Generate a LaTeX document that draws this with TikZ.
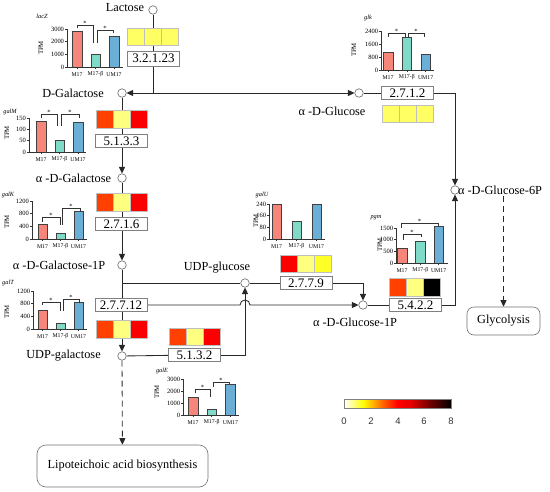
\documentclass[tikz,border=0pt]{standalone}
\usepackage{fontspec}
\setmainfont{Liberation Serif}
\newfontfamily\sansf{Liberation Sans}
\usetikzlibrary{arrows.meta,backgrounds}
\pgfdeclarelayer{bottom}
\pgfsetlayers{bottom,background,main}
\definecolor{barM}{RGB}{246,134,122}
\definecolor{barB}{RGB}{127,219,200}
\definecolor{barU}{RGB}{107,174,214}
\definecolor{hOr}{RGB}{255,64,0}
\definecolor{hPy}{RGB}{255,255,128}
\definecolor{hRd}{RGB}{250,0,0}
\definecolor{hLy}{RGB}{255,255,100}
\definecolor{hYe}{RGB}{255,255,40}
\definecolor{lnc}{RGB}{40,40,40}
\pgfdeclarehorizontalshading{heatbar}{100bp}{color(0bp)=(white); color(25bp)=(white); color(34bp)=(yellow); color(43bp)=(orange!80!red); color(50bp)=(red); color(56bp)=(red!90!black); color(65bp)=(red!45!black); color(75bp)=(black); color(100bp)=(black)}
\pgfkeys{/chart/.cd, x/.store in=\cX, y/.store in=\cY, h/.store in=\cH, tick/.store in=\cT,
  a/.store in=\cA, b/.store in=\cB, c/.store in=\cC, off/.store in=\cO, sp/.store in=\cS,
  len/.store in=\cL, tx/.store in=\cTX, ty/.store in=\cTY, gx/.store in=\cGX, gy/.store in=\cGY,
  gene/.store in=\cN}
\newcommand\chart[1]{%
  \pgfkeys{/chart/.cd, off=9, sp=18.5, len=56, #1}%
  \node[genelab] at (\cGX,\cGY) {\cN};
  \node[tpmlab] at (\cTX,\cTY) {TPM};
  \begin{scope}[shift={(\cX,\cY)}]
    \foreach \v/\col/\k/\lab in {\cA/barM/0/M17, \cB/barB/1/M17-β, \cC/barU/2/UM17} {
      \pgfmathsetmacro\bc{\cO+\k*\cS}
      \pgfmathsetmacro\bt{-\v/(3*\cT)*\cH}
      \draw[barline, fill=\col] (\bc-4.75,0) rectangle (\bc+4.75,\bt);
      \draw[axisline] (\bc,0) -- (\bc,2);
      \node[xlab] at (\bc,7.5) {\lab};
    }
    \draw[axisline] (0,-\cH) -- (0,0) -- (\cL,0);
    \foreach \i in {0,1,2,3} {
      \pgfmathsetmacro\tyy{-\i*\cH/3}
      \pgfmathtruncatemacro\tl{\i*\cT}
      \draw[axisline] (-2,\tyy) -- (0,\tyy);
      \node[ylab] at (-2.8,\tyy) {\tl};
    }
  \end{scope}
}
\newcommand\brk[5]{%
  \draw[axisline] (#1,#2) -- (#1,#5) -- (#3,#5) -- (#3,#4);
  \node[starlab] at ({(#1+#3)/2},#5-1.8) {*};
}
\newcommand\heat[6]{%
  \node[cell, fill=#4] (#1-1) at (#2-17,#3) {};
  \node[cell, fill=#5] (#1-2) at (#2,#3) {};
  \node[cell, fill=#6] (#1-3) at (#2+17,#3) {};
}
\tikzset{
  met/.style={circle, draw=black!60, fill=white, minimum size=8.5pt, inner sep=0pt, line width=0.6pt},
  ec/.style={draw=black!50, fill=white, minimum width=52pt, minimum height=13.5pt, inner sep=0pt, line width=0.6pt, font=\fontsize{13}{13}\selectfont},
  cell/.style={draw=black!25, minimum width=17pt, minimum height=17.5pt, inner sep=0pt, line width=0.4pt},
  lbl/.style={font=\fontsize{12.3}{12.3}\selectfont, inner sep=1pt},
  endbox/.style={draw=black!55, rounded corners=7pt, line width=0.6pt, font=\fontsize{12.3}{12.3}\selectfont, inner sep=0pt},
  conn/.style={draw=lnc, line width=0.85pt},
  arr/.style={conn, -{Triangle[length=6.5pt,width=6pt]}},
  darr/.style={arr, dash pattern=on 6pt off 4pt},
  barline/.style={draw=black!75, line width=0.4pt},
  axisline/.style={draw=black!80, line width=0.45pt},
  xlab/.style={font=\fontsize{5.8}{5.8}\selectfont, inner sep=0pt},
  ylab/.style={font=\fontsize{6.5}{6.5}\selectfont, inner sep=0pt, anchor=east},
  tpmlab/.style={font=\fontsize{6.8}{6.8}\selectfont, inner sep=0pt, rotate=90},
  genelab/.style={font=\fontsize{6.3}{6.3}\selectfont\itshape, inner sep=0pt},
  starlab/.style={font=\fontsize{6.5}{6.5}\selectfont, inner sep=0pt},
  cbnum/.style={font=\sansf\fontsize{9.5}{9.5}\selectfont, text=black!80, inner sep=0pt}
}
\begin{document}
\begin{tikzpicture}[x=1pt,y=-1pt]
\useasboundingbox (0,0) rectangle (550,491);
\begin{pgfonlayer}{bottom}
  \fill[white] (0,0) rectangle (550,491);
\end{pgfonlayer}

% metabolites (circles)
\node[met] (lac) at (153,10) {};
\node[met] (dgal) at (122,93) {};
\node[met] (agal) at (122,178) {};
\node[met] (agal1p) at (122,265) {};
\node[met] (udpgal) at (122,356) {};
\node[met] (udpglc) at (245,283) {};
\node[met] (aglc) at (359,93) {};
\node[met] (aglc1p) at (363,305) {};
\node[met] (aglc6p) at (455,190) {};
\coordinate (jn) at (153,93);
\coordinate (jn2) at (122,283);

% metabolite labels
\node[lbl] (tlac) at (125,8) {Lactose};
\node[lbl] (tdgal) at (73,93) {D-Galactose};
\node[lbl] (tagal) at (73.5,178) {α -D-Galactose};
\node[lbl] (tagal1p) at (59,265) {α -D-Galactose-1P};
\node[lbl] (tudpgal) at (63.5,356) {UDP-galactose};
\node[lbl] (tudpglc) at (217,268) {UDP-glucose};
\node[lbl] (taglc) at (332,111) {α -D-Glucose};
\node[lbl] (taglc1p) at (355,322) {α -D-Glucose-1P};
\node[lbl] (taglc6p) at (500,190) {α -D-Glucose-6P};

% end boxes
\node[endbox, minimum width=73pt, minimum height=28pt] (glyco) at (503.5,321) {Glycolysis};
\node[endbox, minimum width=171pt, minimum height=42pt, rounded corners=9pt] (lta) at (122.5,466) {Lipoteichoic acid biosynthesis};

% enzyme boxes
\node[ec, minimum height=15pt] (e32123) at (153.5,58.5) {3.2.1.23};
\node[ec] (e2712) at (407.5,93) {2.7.1.2};
\node[ec] (e5133) at (121.5,141) {5.1.3.3};
\node[ec] (e2716) at (121.5,224) {2.7.1.6};
\node[ec] (e27712) at (121,305) {2.7.7.12};
\node[ec] (e5132) at (194.5,355) {5.1.3.2};
\node[ec] (e2779) at (306,283) {2.7.7.9};
\node[ec] (e5422) at (415.5,305) {5.4.2.2};

% heat maps
\heat{h1}{153}{36.5}{hLy}{hLy}{hLy}
\heat{h2}{407.5}{113.5}{hLy}{hLy}{hLy}
\heat{h3}{121.5}{119}{hOr}{hPy}{hRd}
\heat{h4}{121.5}{202}{hOr}{hPy}{hRd}
\heat{h5}{121.5}{329}{hOr}{hPy}{hRd}
\heat{h6}{195}{336.5}{hOr}{hPy}{hRd}
\heat{h7}{305.5}{263.5}{hRd}{hPy}{hYe}
\heat{h8}{415}{287}{hOr}{hPy}{black}

% connectors
\begin{pgfonlayer}{background}
  \draw[conn] (lac) -- (jn);
  \draw[arr] (jn) -- (dgal);
  \draw[arr] (jn) -- (aglc);
  \draw[conn] (aglc) -- (e2712);
  \draw[arr] (e2712.east) -| (aglc6p);
  \draw[arr] (dgal) -- (agal);
  \draw[arr] (agal) -- (agal1p);
  \draw[arr] (agal1p) -- (udpgal);
  \draw[conn] (jn2) -- (udpglc);
  \draw[arr] (e27712.east) -- (240,305) arc[start angle=180, end angle=360, radius=5] -- (aglc1p);
  \draw[conn] (udpgal) -- (e5132);
  \draw[arr] (e5132.east) -| (udpglc);
  \draw[conn] (udpglc) -- (e2779);
  \draw[arr] (e2779.east) -| (aglc1p);
  \draw[conn] (aglc1p) -- (e5422);
  \draw[arr] (e5422.east) -| (aglc6p);
  \draw[darr] (glyco.north |- taglc6p.south) -- (glyco.north);
  \draw[darr] (udpgal) -- (lta);
\end{pgfonlayer}

% bar charts
\chart{x=67, y=67, h=38, tick=1000, a=2800, b=1050, c=2450, off=10, sp=18.5, len=56, tx=41, ty=48, gx=42, gy=16, gene=lacZ}
\brk{77}{28}{93}{43}{25}
\brk{97}{43}{113}{33}{30}

\chart{x=381, y=70, h=39, tick=800, a=1108, b=2030, c=985, off=7, sp=18.8, len=53, tx=354, ty=50, gx=368, gy=18, gene=glk}
\brk{388}{37}{405}{37}{33}
\brk{408}{37}{424}{37}{33}

\chart{x=29, y=152, h=34, tick=50, a=137, b=53, c=132, off=12, sp=18.5, len=57, tx=7, ty=133, gx=10, gy=112, gene=galM}
\brk{41}{118}{57}{126}{114}
\brk{61}{126}{79}{118}{114}

\chart{x=32, y=239, h=38, tick=400, a=474, b=190, c=884, off=10.5, sp=18, len=55, tx=7, ty=222, gx=8, gy=195, gene=galK}
\brk{42}{222}{60}{225}{217}
\brk{62}{225}{80}{211}{208}

\chart{x=33, y=329, h=38, tick=400, a=600, b=190, c=850, off=9.5, sp=18, len=54, tx=7, ty=312, gx=8, gy=283, gene=galT}
\brk{42}{305}{60}{311}{302}
\brk{63}{311}{79}{303}{299}

\chart{x=269, y=239, h=35, tick=80, a=238, b=123, c=240, off=7.5, sp=20, len=56, tx=256, ty=221, gx=262, gy=195, gene=galU}

\chart{x=396, y=263, h=35, tick=500, a=643, b=943, c=1586, off=6, sp=18.3, len=52, tx=380, ty=245, gx=376, gy=218, gene=pgm}
\brk{403}{240}{421}{237}{234}
\brk{401}{228}{438}{226}{223}

\chart{x=183, y=415, h=36, tick=1000, a=1500, b=500, c=2580, off=10, sp=18.7, len=56, tx=157, ty=392, gx=162, gy=371, gene=galE}
\brk{195}{393}{210}{397}{389}
\brk{213}{387}{229}{384}{382}

% colour bar
\node[draw=black!50, line width=0.5pt, shade, shading=heatbar, minimum width=107pt, minimum height=9pt, inner sep=0pt] (cbar) at (397.5,403.5) {};
\node[cbnum] (n0) at (344,421) {0};
\node[cbnum] (n2) at (371,421) {2};
\node[cbnum] (n4) at (398,421) {4};
\node[cbnum] (n6) at (424,421) {6};
\node[cbnum] (n8) at (451,421) {8};
\end{tikzpicture}
\end{document}
